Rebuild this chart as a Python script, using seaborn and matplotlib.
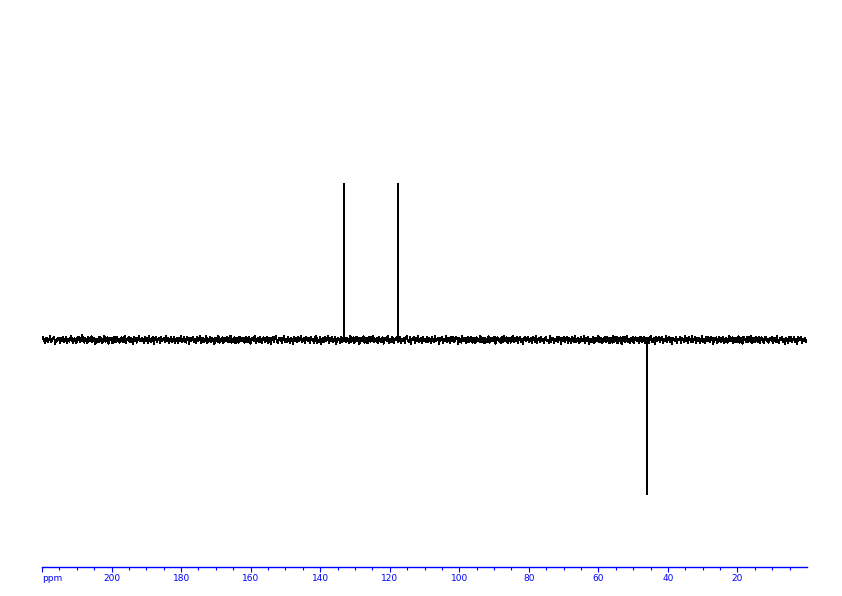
import numpy as np
import pandas as pd
import matplotlib
matplotlib.use("Agg")
import matplotlib.pyplot as plt
import seaborn as sns

# Spectrum range (ppm) and peaks
ppm_inicio = 220
ppm_fin = 0
picos_ppm = [133.2, 117.7, 46.1]
picos_altura = [1.0, 1.0, -0.99]

# Baseline noise, thousandths of the peak height (left to right, ~1 px apart)
ruido = [
    5, 18, -3, -21, 9, 14, -12, 2, 24, -16, -7, 11, 19, -25, 3, -9, 15, 7, -18, 12,
    -4, 22, -14, 0, 17, -20, 6, -11, 13, 27, -8, -19, 10, 4, -23, 16, -2, 20, -15, 8,
    31, -6, -17, 13, 1, -22, 18, -10, 7, 23, -13, -4, 15, -26, 9, 2, -16, 21, -7, 12,
    -19, 6, 25, -11, -3, 17, -24, 10, 14, -5, -20, 19, 3, -14, 22, -9, 8, -18, 11, 16,
    -12, 4, 26, -21, 7, -2, 18, -15, 12, 5, -25, 20, -8, 14, -17, 1, 23, -10, -6, 15,
    9, -22, 17, -4, 11, -19, 24, 2, -13, 8, 16, -27, 6, 19, -11, -1, 14, -20, 21, -7,
    3, 13, -16, 25, -9, 10, -23, 5, 18, -12, -3, 22, -18, 7, 15, -21, 12, -6, 28, -14,
    1, 20, -10, -17, 16, 6, -24, 13, -5, 9, 21, -15, 4, -20, 17, -8, 11, 26, -19, -2,
    14, -13, 8, 23, -22, 3, -7, 19, -16, 12, 0, -26, 15, 10, -11, 24, -18, 5, -4, 17,
    -21, 9, 13, -8, 20, -14, 2, 27, -19, 6, -12, 16, -23, 11, 4, -17, 21, -3, -10, 14,
    7, -18, 22, -1, -15, 18, 10, -24, 5, 15, -9, 25, -20, -3, 12, -13, 19, 8, -22, 4,
    16, -11, -6, 21, -17, 9, 13, -25, 2, 18, -14, 7, 24, -8, -19, 11, -2, 15, -21, 6,
    23, -15, 4, -12, 17, 1, -20, 14, 8, -26, 19, -5, 10, -16, 22, -9, 3, 26, -13, -7,
    12, -23, 18, 5, -10, 15, -18, 20, -4, 9, -22, 13, 28, -17, 1, -11, 16, -24, 7, 10,
    -14, 21, -6, 3, 24, -20, 11, -9, 17, -15, 6, 19, -25, 8, 14, -3, -18, 22, -12, 5,
    18, -8, -16, 12, 2, -21, 25, -13, 7, 16, -19, -4, 20, -10, 11, -26, 15, 4, -7, 23,
    -17, 9, 14, -22, 6, 19, -11, -2, 24, -16, 10, -5, 13, -20, 21, 3, -14, 8, 17, -24,
    2, 15, -9, 26, -18, 5, -13, 20, 11, -23, 7, -1, 18, -15, 12, 22, -21, 4, -8, 14,
    -19, 11, 23, -6, -12, 16, -25, 9, 3, 19, -17, 13, -7, 25, -14, 1, 10, -22, 18, -4,
    8, -16, 21, -11, 14, 4, -20, 17, -3, -13, 24, -9, 6, 15, -24, 12, -1, 20, -18, 9,
    -6, 27, -15, 3, 11, -21, 16, -8, 22, -12, -4, 18, 9, -26, 13, 5, -17, 23, -10, 1,
    15, -20, 10, 19, -14, -2, 21, -18, 6, 13, -23, 17, -5, 8, -11, 25, -16, 2, 14, -22,
    11, 4, -13, 24, -19, 7, 15, -10, -3, 20, -25, 12, 16, -7, 3, -21, 19, -12, 26, -8,
    -3, 16, -22, 9, 13, -17, 2, 23, -14, 10, -6, 19, -20, 4, 21, -11, 7, -24, 12, 17,
    -10, 5, 20, -16, -1, 14, -23, 18, 8, -12, 25, -19, 3, 11, -15, 22, -7, 6, -21, 13,
    19, -9, 2, -18, 26, -13, 10, 15, -22, 4, -8, 17, -16, 21, 9, -25, 12, -4, 16, -11,
    6, 22, -17, 11, -5, -20, 18, 1, -12, 24, -15, 8, 14, -23, 5, 19, -9, -2, 23, -18,
    13, -7, 17, -24, 9, 3, -14, 21, -19, 12, 6, -10, 27, -16, 2, 15, -21, 10, -6, 20,
    -13, 18, -2, -22, 14, 7, -17, 25, -11, 5, 19, -20, 10, -4, 16, -26, 8, 21, -15, 3,
    24, -12, 9, -19, 15, -6, 20, -23, 1, 17, -9, 13, -18, 6, 22, -14, -3, 18, -20, 11,
    -5, 14, -21, 8, 26, -16, 4, 12, -24, 19, -8, -1, 21, -13, 10, 16, -19, 7, -10, 23,
    -16, 3, 18, -12, 11, -25, 15, 6, -7, 22, -17, 9, -3, 20, -22, 13, 2, -14, 25, -9,
    10, -20, 16, 4, -11, 23, -15, 7, 18, -21, 12, -6, 14, -18, 1, 24, -13, 8, -23, 17,
    -8, 21, -4, -15, 19, 9, -26, 13, -2, 16, -19, 5, 22, -10, -16, 11, 18, -22, 3, 14,
    -18, 7, 24, -9, 2, 17, -20, 10, 15, -13, -5, 23, -17, 8, 12, -24, 19, -1, 6, -14,
    20, -11, 5, 25, -21, 14, -7, -16, 22, 3, -12, 18, -23, 9, 16, -6, -19, 13, 21, -10,
    4, -17, 12, -3, 19, -22, 8, 15, -14, 26, -9, -18, 11, 2, 20, -15, 7, -25, 14, 5,
    -20, 16, -8, 22, -13, 1, 18, -11, 9, -24, 21, -4, 13, 17, -21, 6, -7, 15, -12, 0,
]

ticks_mayores = [220, 200, 180, 160, 140, 120, 100, 80, 60, 40, 20]
etiquetas = ["ppm", "200", "180", "160", "140", "120", "100", "80", "60", "40", "20"]
ticks_menores = [v for v in range(215, 0, -5) if v % 20 != 0]

# Build the spectrum: noisy baseline plus one vertical line per peak
x_ruido = np.linspace(ppm_inicio, ppm_fin, len(ruido))
y_ruido = np.array(ruido) / 1000.0
x_picos, y_picos = [], []
for p, h in zip(picos_ppm, picos_altura):
    x_picos += [p, p, p]
    y_picos += [0.0, h, 0.0]
x = np.concatenate([x_ruido, x_picos])
y = np.concatenate([y_ruido, y_picos])
orden = np.argsort(-x, kind="stable")
espectro = pd.DataFrame({"ppm": x[orden], "intensidad": y[orden]})

sns.set_theme(style="white")
azul = "#0000ff"

fig = plt.figure(figsize=(8.42, 5.96), dpi=100)
ax = fig.add_axes([42 / 842, 29 / 596, 765 / 842, 547 / 596])
sns.lineplot(data=espectro, x="ppm", y="intensidad", sort=False, estimator=None,
             color="black", linewidth=0.72, antialiased=False, ax=ax)

ax.set_xlim(ppm_inicio, ppm_fin)
ax.set_ylim(-1.455, 2.05)
for lado in ["top", "right", "left"]:
    ax.spines[lado].set_visible(False)
ax.spines["bottom"].set_color(azul)
ax.spines["bottom"].set_linewidth(1.0)

ax.set_xticks(ticks_mayores)
ax.set_xticklabels(etiquetas, fontsize=6.5, color=azul)
ax.get_xticklabels()[0].set_horizontalalignment("left")
ax.set_xticks(ticks_menores, minor=True)
ax.tick_params(axis="x", which="major", bottom=True, direction="out", length=3.5,
               width=0.8, color=azul, pad=1.5)
ax.tick_params(axis="x", which="minor", bottom=True, direction="out", length=2,
               width=0.8, color=azul)
ax.set_yticks([])
ax.set_xlabel("")
ax.set_ylabel("")

fig.savefig("out.png", dpi=100)
